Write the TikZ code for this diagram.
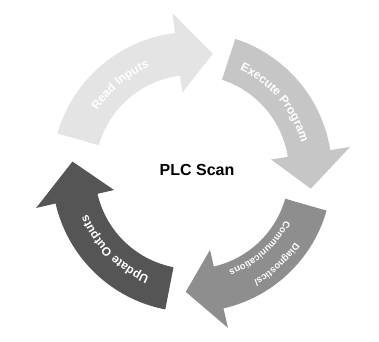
\documentclass[tikz,border=0pt]{standalone}
\usepackage{fontspec}
\setsansfont{Liberation Sans}
\usetikzlibrary{decorations.text}
\usepackage{xcolor}

\definecolor{readgray}{HTML}{E4E4E4}
\definecolor{execgray}{HTML}{C6C6C6}
\definecolor{diaggray}{HTML}{8E8E8E}
\definecolor{updgray}{HTML}{555555}
\newcommand{\arcfont}{\sffamily\bfseries\fontsize{12}{14}\selectfont}
\newcommand{\smallarcfont}{\sffamily\bfseries\fontsize{9.5}{11}\selectfont}

\tikzset{
	arclabel/.style={decorate, decoration={text along path, text align=center, text color=white}}
}

\begin{document}
\begin{tikzpicture}[x=1pt,y=1pt]
	\useasboundingbox (0,0) rectangle (379,341);
	
	\begin{scope}[shift={(192,169)}]
	% Read Inputs
	\fill[readgray] (164:97) arc[start angle=164, end angle=97, radius=97] -- (97:80) -- (80:120) -- (97:160) -- (97:140) arc[start angle=97, end angle=164, radius=140] -- cycle;
	% Execute Program
	\fill[execgray] (72:97) arc[start angle=72, end angle=9, radius=97] -- (9:80) -- (-8:120) -- (9:160) -- (9:140) arc[start angle=9, end angle=72, radius=140] -- cycle;
	% Diagnostics/Communications
	\fill[diaggray] (-16:97) arc[start angle=-16, end angle=-77, radius=97] -- (-77:80) -- (-93:120) -- (-77:160) -- (-77:140) arc[start angle=-77, end angle=-16, radius=140] -- cycle;
	% Update Outputs
	\fill[updgray] (-101:97) arc[start angle=-101, end angle=-167, radius=97] -- (-167:80) -- (-185:120) -- (-167:160) -- (-167:140) arc[start angle=-167, end angle=-101, radius=140] -- cycle;
	
	\path[arclabel, decoration={text={|\arcfont|Read Inputs}}] (161:113) arc[start angle=161, end angle=98, radius=113];
	\path[arclabel, decoration={text={|\arcfont|Execute Program}}] (70:113) arc[start angle=70, end angle=10, radius=113];
	\path[arclabel, decoration={text={|\smallarcfont|Diagnostics/}}] (-17:125) arc[start angle=-17, end angle=-78, radius=125];
	\path[arclabel, decoration={text={|\smallarcfont|Communications}}] (-17:105) arc[start angle=-17, end angle=-80, radius=105];
	\path[arclabel, decoration={text={|\arcfont|Update Outputs}}] (-103:113) arc[start angle=-103, end angle=-167, radius=113];
	\end{scope}
	
	\node[font=\sffamily\bfseries\fontsize{16}{18}\selectfont] (scan) at (197,171) {PLC Scan};
\end{tikzpicture}
\end{document}
